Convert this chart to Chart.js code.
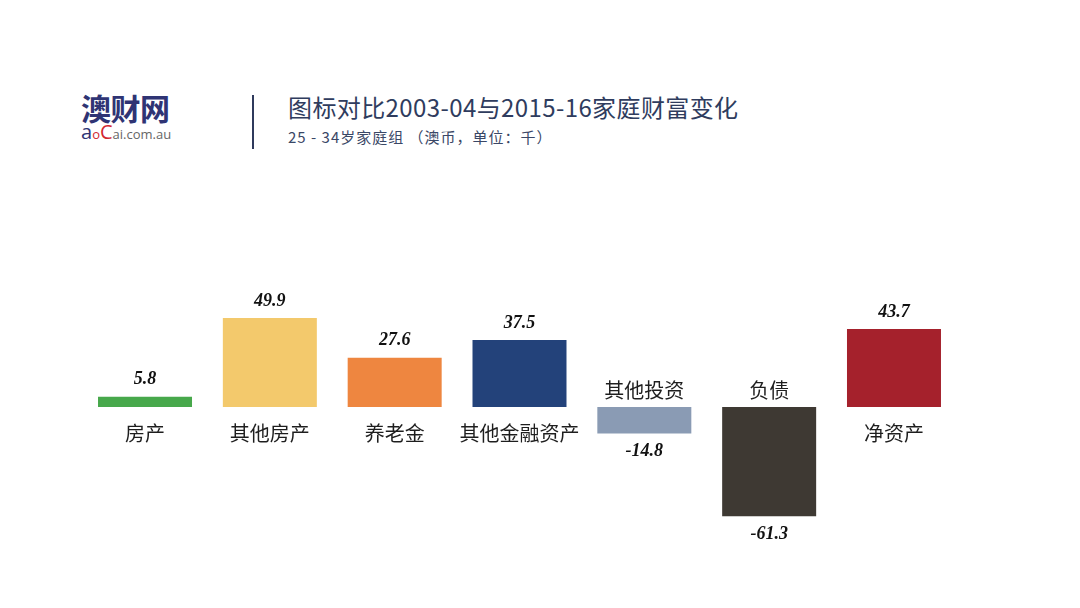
<!DOCTYPE html>
<html>
<head>
<meta charset="utf-8">
<script src="https://cdn.jsdelivr.net/npm/chart.js@4.4.1/dist/chart.umd.min.js"></script>
<style>
  html, body { margin: 0; padding: 0; background: #fff; }
  body { width: 1080px; height: 608px; position: relative; overflow: hidden; font-family: 'Noto Sans CJK SC', 'Noto Sans', sans-serif; }
  #wrap { position: absolute; left: 0; top: 0; width: 1080px; height: 608px; }
  .logo { position: absolute; left: 81px; top: 89px; }
  .logo .cn { font-size: 30px; font-weight: 700; color: #2f3474; letter-spacing: -0.5px; line-height: 36px; }
  .logo .en { font-family: 'Open Sans', sans-serif; font-size: 13px; color: #666; line-height: 18px; margin-top: -2px; }
  .logo .en .a { font-size: 20px; color: #2f3474; }
  .logo .en .o { font-size: 13px; color: #d2272f; }
  .logo .en .c { font-size: 20px; color: #d2272f; }
  .bar-sep { position: absolute; left: 252px; top: 95px; width: 2px; height: 54px; background: #2f3a5c; }
  .title { position: absolute; left: 288px; top: 90px; font-size: 24px; letter-spacing: 0.4px; color: #2f3c5e; line-height: 34px; }
  .sub { position: absolute; left: 288px; top: 125px; font-size: 15px; letter-spacing: 1px; color: #3a4766; line-height: 24px; }
</style>
</head>
<body>
<div class="logo">
  <div class="cn">澳财网</div>
  <div class="en"><span class="a">a</span><span class="o">o</span><span class="c">C</span>ai.com.au</div>
</div>
<div class="bar-sep"></div>
<div class="title">图标对比2003-04与2015-16家庭财富变化</div>
<div class="sub">25 - 34岁家庭组 （澳币，单位：千）</div>
<div id="wrap"><canvas id="chart"></canvas></div>
<script>
const categories = ['房产', '其他房产', '养老金', '其他金融资产', '其他投资', '负债', '净资产'];
const values = [5.8, 49.9, 27.6, 37.5, -14.8, -61.3, 43.7];
const barColors = ['#47a84b', '#f3c96c', '#ee8640', '#23427a', '#8a9bb4', '#3e3933', '#a5212c'];

const labelPlugin = {
  id: 'barLabels',
  afterDatasetsDraw(chart) {
    const ctx = chart.ctx;
    const meta = chart.getDatasetMeta(0);
    const zeroY = chart.scales.y.getPixelForValue(0);
    ctx.save();
    ctx.textAlign = 'center';
    ctx.textBaseline = 'middle';
    meta.data.forEach((bar, i) => {
      const v = values[i];
      const x = bar.x;
      ctx.font = 'italic bold 18px "Liberation Serif", serif';
      ctx.fillStyle = '#111';
      if (v >= 0) {
        ctx.fillText(v.toFixed(1), x, bar.y - 17);
      } else {
        ctx.fillText(v.toFixed(1), x, bar.y + 18);
      }
      ctx.font = '20px "Noto Sans CJK SC", sans-serif';
      ctx.fillStyle = '#1e1e1e';
      if (v >= 0) {
        ctx.fillText(categories[i], x, zeroY + 26);
      } else {
        ctx.fillText(categories[i], x, zeroY - 17);
      }
    });
    ctx.restore();
  }
};

new Chart(document.getElementById('chart'), {
  type: 'bar',
  data: {
    labels: categories,
    datasets: [{
      data: values,
      backgroundColor: barColors,
      borderWidth: 0,
      barPercentage: 1,
      categoryPercentage: 0.753,
    }],
  },
  options: {
    responsive: true, maintainAspectRatio: false,
    animation: false,
    layout: { padding: { left: 82.6, right: 123.6, top: 228.6, bottom: 22.6 } },
    plugins: { legend: { display: false }, tooltip: { enabled: false } },
    scales: {
      x: { display: false },
      y: { display: false, min: -100, max: 100 },
    },
  },
  plugins: [labelPlugin],
});
</script>
</body>
</html>
